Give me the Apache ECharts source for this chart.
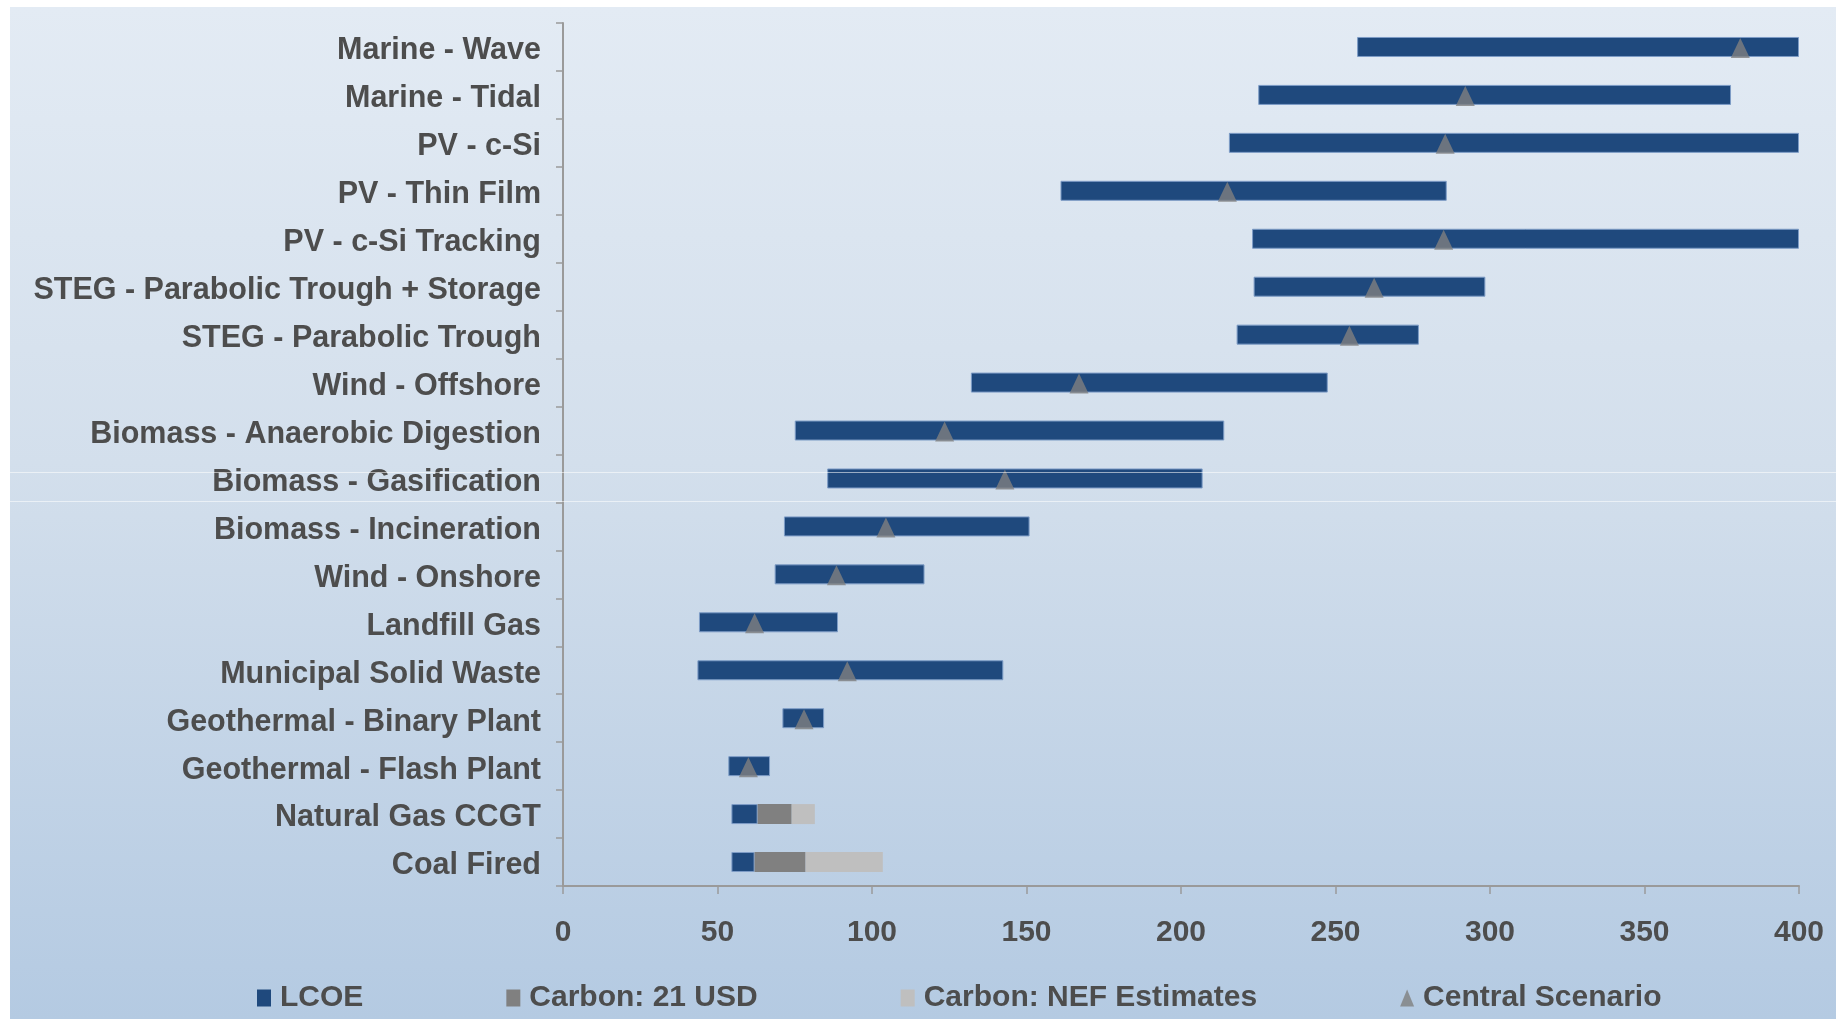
<!DOCTYPE html>
<html>
<head>
<meta charset="utf-8">
<title>Levelised cost of energy by technology</title>
<script src="https://cdn.jsdelivr.net/npm/echarts@6/dist/echarts.min.js"></script>
<style>
  html, body { margin: 0; padding: 0; background: #ffffff; }
  #chart { width: 1836px; height: 1019px; }
</style>
</head>
<body>
<div id="chart"></div>
<script>
// Technologies, listed top to bottom
const categories = [
  'Marine - Wave',
  'Marine - Tidal',
  'PV - c-Si',
  'PV - Thin Film',
  'PV - c-Si Tracking',
  'STEG - Parabolic Trough + Storage',
  'STEG - Parabolic Trough',
  'Wind - Offshore',
  'Biomass - Anaerobic Digestion',
  'Biomass - Gasification',
  'Biomass - Incineration',
  'Wind - Onshore',
  'Landfill Gas',
  'Municipal Solid Waste',
  'Geothermal - Binary Plant',
  'Geothermal - Flash Plant',
  'Natural Gas CCGT',
  'Coal Fired'
];

// LCOE range (low / high end)
const lcoeLow  = [257, 225, 215.5, 161, 223, 223.5, 218, 132, 75, 85.5, 71.5, 68.5, 44, 43.5, 71, 53.5, 54.5, 54.5];
const lcoeHigh = [400, 378, 400, 286, 400, 298.5, 277, 247.5, 214, 207, 151, 117, 89, 142.5, 84.5, 67, 63, 62];

// Carbon cost adders for fossil plants
const carbon21Adder  = [null, null, null, null, null, null, null, null, null, null, null, null, null, null, null, null, 11, 16.5];
const carbonNefAdder = [null, null, null, null, null, null, null, null, null, null, null, null, null, null, null, null, 7.5, 25];

// Central scenario estimate
const central = [381, 292, 285.5, 215, 285, 262.5, 254.5, 167, 123.5, 143, 104.5, 88.5, 62, 92, 78, 60, null, null];

// Value axis ticks
const xMin = 0, xMax = 400, xStep = 50;

const FONT = "'Liberation Sans', Arial, Helvetica, sans-serif";
const TEXT = '#4d4d4d';
const AXIS = '#9a9a9a';
const BLUE = '#1f497d';

const lcoeSpan = lcoeHigh.map((h, i) => +(h - lcoeLow[i]).toFixed(2));
const centralPoints = central
  .map((v, i) => (v == null ? null : [v, categories[i]]))
  .filter(Boolean);

const chart = echarts.init(document.getElementById('chart'), null, { renderer: 'canvas' });

const option = {
  animation: false,
  backgroundColor: '#ffffff',
  graphic: [
    {
      type: 'rect', z: -10, silent: true,
      shape: { x: 10, y: 7, width: 1826, height: 1012 },
      style: {
        fill: new echarts.graphic.LinearGradient(0, 0, 0, 1, [
          { offset: 0, color: '#e3ebf4' },
          { offset: 0.45, color: '#d3dfec' },
          { offset: 1, color: '#b4cae2' }
        ])
      }
    },
    // faint horizontal rules across the panel
    {
      type: 'line', z: 100, silent: true,
      shape: { x1: 10, y1: 472.5, x2: 1836, y2: 472.5 },
      style: { stroke: 'rgba(255,255,255,0.55)', lineWidth: 1 }
    },
    {
      type: 'line', z: 100, silent: true,
      shape: { x1: 10, y1: 501.5, x2: 1836, y2: 501.5 },
      style: { stroke: 'rgba(255,255,255,0.55)', lineWidth: 1 }
    }
  ],
  grid: { left: 563, right: 37, top: 23, bottom: 133, containLabel: false },
  xAxis: {
    type: 'value',
    min: xMin, max: xMax, interval: xStep,
    axisLine: { show: true, lineStyle: { color: AXIS, width: 2 } },
    axisTick: { show: true, length: 8, lineStyle: { color: AXIS, width: 1.5 } },
    splitLine: { show: false },
    axisLabel: {
      margin: 32, color: TEXT, fontSize: 30, fontWeight: 'bold', fontFamily: FONT
    }
  },
  yAxis: {
    type: 'category',
    inverse: true,
    data: categories,
    axisLine: { show: true, lineStyle: { color: AXIS, width: 2 } },
    axisTick: { show: true, length: 7, lineStyle: { color: AXIS, width: 1.5 } },
    splitLine: { show: false },
    axisLabel: {
      margin: 22,
      formatter: (v) => '{c|' + v + '}',
      rich: {
        c: {
          color: TEXT, fontSize: 30.5, fontWeight: 'bold', fontFamily: FONT,
          padding: [8, 0, 0, 0]
        }
      }
    }
  },
  legend: {
    left: 252, top: 978,
    itemGap: 143,
    itemWidth: 14, itemHeight: 17,
    textStyle: { color: TEXT, fontSize: 30, fontWeight: 'bold', fontFamily: FONT, padding: [0, 0, 0, 4] },
    data: [
      { name: 'LCOE', icon: 'rect', itemStyle: { color: BLUE, borderWidth: 0 } },
      { name: 'Carbon: 21 USD', icon: 'rect', itemStyle: { borderWidth: 0 } },
      { name: 'Carbon: NEF Estimates', icon: 'rect', itemStyle: { borderWidth: 0 } },
      { name: 'Central Scenario', icon: 'triangle' }
    ],
    selectedMode: false
  },
  series: [
    {
      name: 'base',
      type: 'bar',
      stack: 'range',
      barWidth: 20,
      silent: true,
      itemStyle: { color: 'rgba(0,0,0,0)' },
      data: lcoeLow
    },
    {
      name: 'LCOE',
      type: 'bar',
      stack: 'range',
      barWidth: 20,
      itemStyle: { color: BLUE, borderColor: '#7d9cc6', borderWidth: 1 },
      data: lcoeSpan
    },
    {
      name: 'Carbon: 21 USD',
      type: 'bar',
      stack: 'range',
      barWidth: 20,
      itemStyle: { color: '#808080' },
      data: carbon21Adder
    },
    {
      name: 'Carbon: NEF Estimates',
      type: 'bar',
      stack: 'range',
      barWidth: 20,
      itemStyle: { color: '#bfbfbf' },
      data: carbonNefAdder
    },
    {
      name: 'Central Scenario',
      type: 'scatter',
      symbol: 'triangle',
      symbolSize: [19, 20],
      symbolOffset: [0, 1],
      z: 5,
      itemStyle: { color: '#7f7f7f' },
      data: centralPoints
    }
  ]
};

chart.setOption(option);
</script>
</body>
</html>
